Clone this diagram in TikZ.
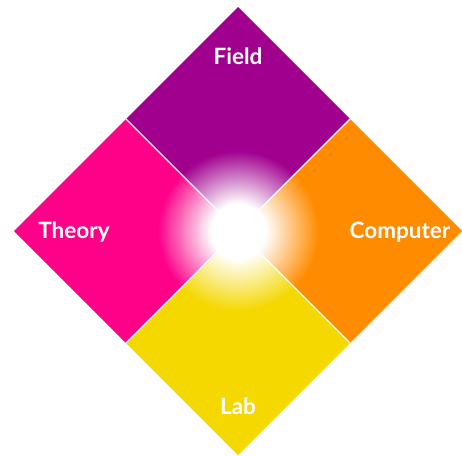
\documentclass[tikz,border=0pt]{standalone}
\usepackage{fontspec}
\setmainfont{Lato}
\usetikzlibrary{fadings}
\definecolor{fieldc}{RGB}{161,0,143}
\definecolor{theoryc}{RGB}{255,0,137}
\definecolor{computerc}{RGB}{255,140,0}
\definecolor{labc}{RGB}{245,216,0}
% soft white glow: opaque core, linear fall-off to transparent
\pgfdeclareradialshading{glowshade}{\pgfpointorigin}{color(0bp)=(white); color(8.5bp)=(white); color(25bp)=(black); color(50bp)=(black)}
\pgfdeclarefading{glowfade}{\pgfuseshading{glowshade}}
\tikzset{
  quad/.style={draw=none},
  gap/.style={draw=white, line width=1.2pt},
  lbl/.style={text=white, font=\fontsize{22.5}{22.5}\selectfont\bfseries, inner sep=0pt}
}
\begin{document}
\begin{tikzpicture}[x=1pt, y=-1pt]
\useasboundingbox (0,0) rectangle (462,455);
% corners of the big diamond and its inner points
\coordinate (c)  at (238,231);
\coordinate (t)  at (238,7);
\coordinate (b)  at (238,455);
\coordinate (l)  at (14,231);
\coordinate (r)  at (462,231);
\coordinate (tl) at (126,119);
\coordinate (tr) at (350,119);
\coordinate (bl) at (126,343);
\coordinate (br) at (350,343);
% the four quarters
\fill[quad, fieldc]    (t) -- (tr) -- (c) -- (tl) -- cycle;
\fill[quad, theoryc]   (tl) -- (c) -- (bl) -- (l) -- cycle;
\fill[quad, computerc] (tr) -- (r) -- (br) -- (c) -- cycle;
\fill[quad, labc]      (c) -- (br) -- (b) -- (bl) -- cycle;
% thin white seams
\draw[gap] (tl) -- (br);
\draw[gap] (tr) -- (bl);
% central glow
\fill[white, path fading=glowfade] (c) circle (80);
% labels
\node[lbl] (field)    at (238,56)  {Field};
\node[lbl] (theory)   at (74,232)  {Theory};
\node[lbl] (computer) at (400,232) {Computer};
\node[lbl] (lab)      at (238,406) {Lab};
\end{tikzpicture}
\end{document}
